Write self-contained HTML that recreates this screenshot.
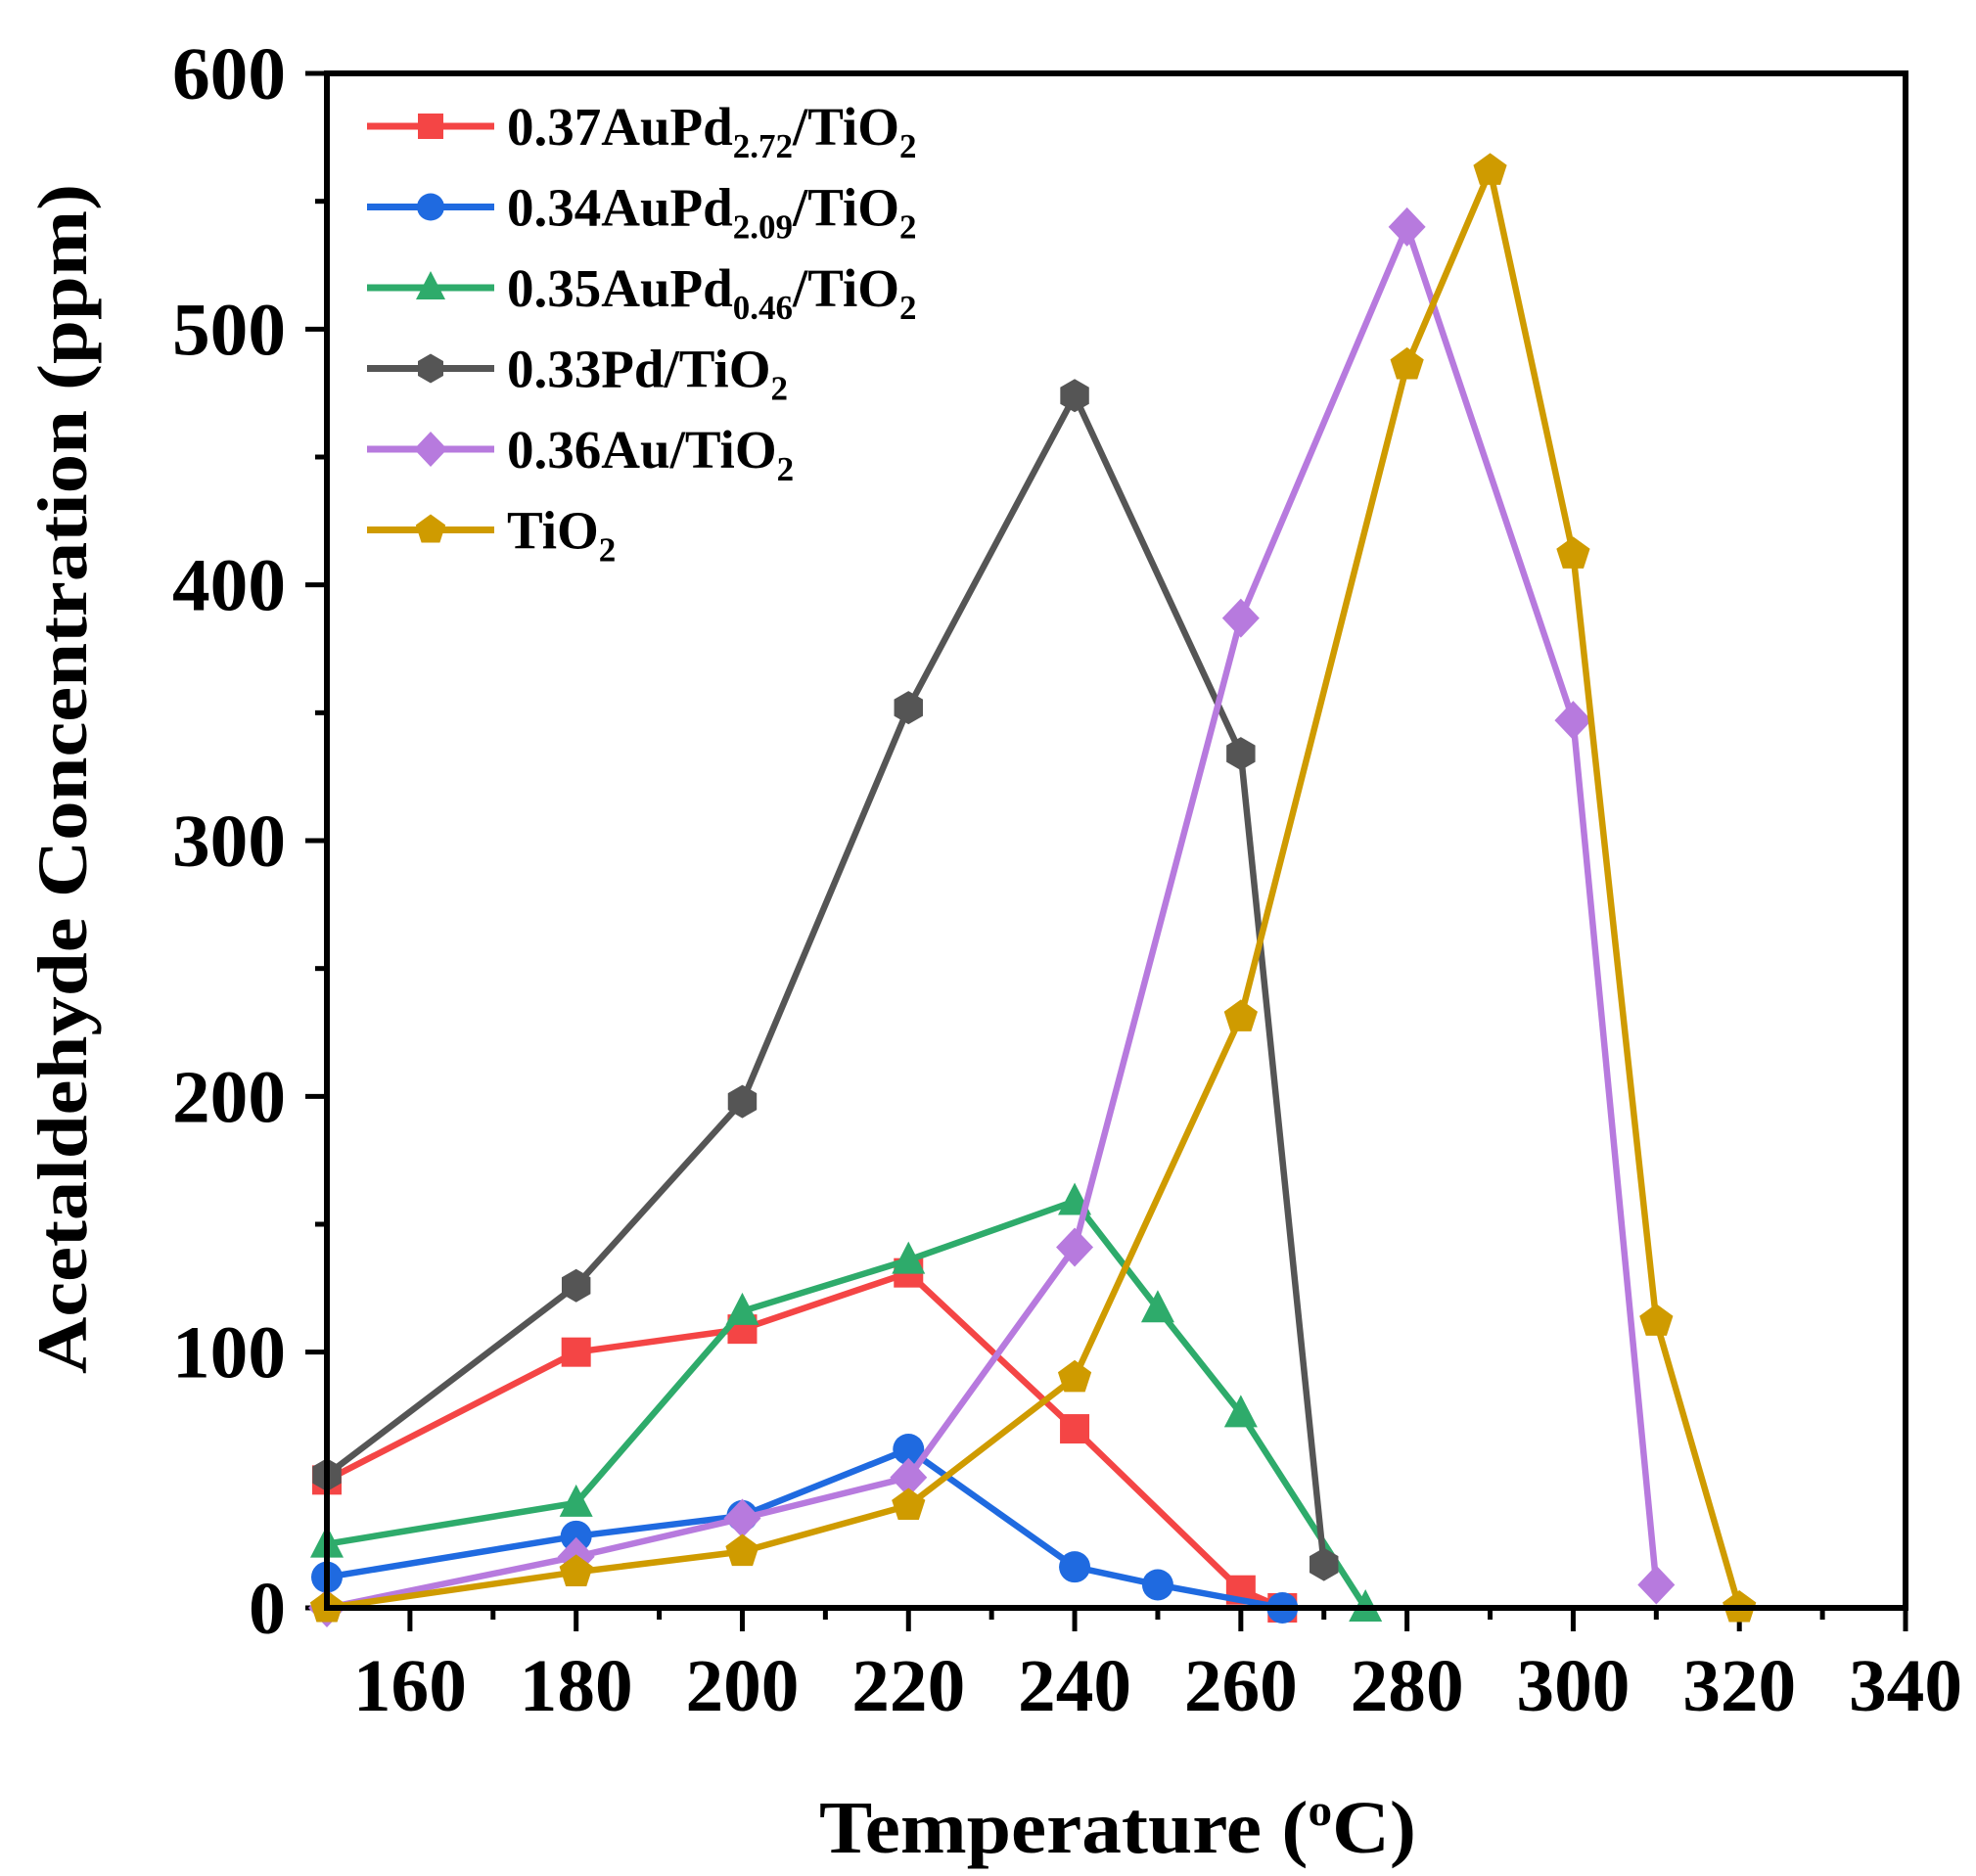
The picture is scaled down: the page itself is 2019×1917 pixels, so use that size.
<!DOCTYPE html>
<html><head><meta charset="utf-8"><style>
html,body{margin:0;padding:0;background:#fff;}
svg{display:block;font-family:"Liberation Serif",serif;font-weight:bold;}
</style></head><body>
<svg id="s" width="2019" height="1917" viewBox="0 0 2019 1917" xmlns="http://www.w3.org/2000/svg">
<g id="ticks" stroke="#000" stroke-width="5"></g>
<g id="data"></g>
<rect x="334" y="75" width="1613" height="1568" fill="none" stroke="#000" stroke-width="6"/>
<g id="labels" font-size="76" fill="#000"></g>
<text x="1142" y="1893" font-size="76" text-anchor="middle" textLength="610" lengthAdjust="spacingAndGlyphs">Temperature (<tspan dy="-28" font-size="46">o</tspan><tspan dy="28">C)</tspan></text>
<text transform="translate(88,796) rotate(-90)" font-size="72" text-anchor="middle" textLength="1216" lengthAdjust="spacingAndGlyphs">Acetaldehyde Concentration (ppm)</text>
<g id="legend" font-size="55"></g>
</svg>
<script>
const NS="http://www.w3.org/2000/svg";
const X=t=>334+(t-150)*8.4895, Y=v=>1643-v*2.6133;
function el(p,tag,a,txt){const e=document.createElementNS(NS,tag);for(const k in a)e.setAttribute(k,a[k]);if(txt!=null)e.textContent=txt;p.appendChild(e);return e;}
const tk=document.getElementById('ticks'),lb=document.getElementById('labels');
for(let v=0;v<=600;v+=50){const y=Y(v);el(tk,'line',{x1:334,x2:334-(v%100?12:22),y1:y,y2:y});
 if(v%100==0)el(lb,'text',{x:292,y:y+26,'text-anchor':'end',textLength:(v?116:38),lengthAdjust:'spacingAndGlyphs'},String(v));}
for(let t=150;t<=340;t+=10){const x=X(t);el(tk,'line',{x1:x,x2:x,y1:1643,y2:1643+(t%20?12:24)});
 if(t%20==0)el(lb,'text',{x:x,y:1748,'text-anchor':'middle',textLength:116,lengthAdjust:'spacingAndGlyphs'},String(t));}
function marker(g,type,x,y,c,r=17){
 if(type=='sq')el(g,'rect',{x:x-r+2,y:y-r+2,width:2*r-4,height:2*r-4,fill:c});
 else if(type=='ci')el(g,'circle',{cx:x,cy:y,r:r-1,fill:c});
 else if(type=='tr')el(g,'polygon',{points:`${x},${y-r-2} ${x+r},${y+r-3} ${x-r},${y+r-3}`,fill:c});
 else if(type=='hex'){let p=[];for(let i=0;i<6;i++){const a=Math.PI/3*i+Math.PI/6;p.push((x+r*Math.cos(a))+','+(y+r*Math.sin(a)));}el(g,'polygon',{points:p.join(' '),fill:c});}
 else if(type=='dia')el(g,'polygon',{points:`${x},${y-r-3} ${x+r+2},${y} ${x},${y+r+3} ${x-r-2},${y}`,fill:c});
 else if(type=='pen'){let p=[];for(let i=0;i<5;i++){const a=-Math.PI/2+2*Math.PI/5*i;p.push((x+(r+1)*Math.cos(a))+','+(y+(r+1)*Math.sin(a)));}el(g,'polygon',{points:p.join(' '),fill:c});}
}
const S=[
 ['#f44545','sq',[[150,50],[180,100],[200,109],[220,131],[240,70],[260,7],[265,0]],'0.37AuPd','2.72'],
 ['#1f6ae0','ci',[[150,12],[180,28],[200,36],[220,62],[240,16],[250,9],[265,0]],'0.34AuPd','2.09'],
 ['#2eab6b','tr',[[150,25],[180,41],[200,116],[220,136],[240,159],[250,117],[260,76],[275,0]],'0.35AuPd','0.46'],
 ['#555555','hex',[[150,52],[180,126],[200,198],[220,352],[240,474],[260,334],[270,17]],'0.33Pd',null],
 ['#b77ade','dia',[[150,0],[180,20],[200,35],[220,51],[240,141],[260,387],[280,540],[300,347],[310,9]],'0.36Au',null],
 ['#cf9b00','pen',[[150,0],[180,14],[200,22],[220,40],[240,90],[260,231],[280,486],[290,562],[300,412],[310,112],[320,0]],'',null]
];
const dg=document.getElementById('data'),lg=document.getElementById('legend');
S.forEach((s,i)=>{const[c,m,d,name,sub]=s;
 el(dg,'polyline',{points:d.map(p=>X(p[0])+','+Y(p[1])).join(' '),fill:'none',stroke:c,'stroke-width':6.5,'stroke-linejoin':'miter'});
 d.forEach(p=>marker(dg,m,X(p[0]),Y(p[1]),c));
 const y=129+i*82.5;
 el(lg,'line',{x1:375,x2:505,y1:y,y2:y,stroke:c,'stroke-width':7});
 marker(lg,m,440,y,c,15);
 const t=el(lg,'text',{x:518,y:y+19});
 if(name)el(t,'tspan',{},name);
 if(sub)el(t,'tspan',{dy:13,'font-size':35},sub);
 el(t,'tspan',{dy:sub?-13:0},(name?'/':'')+'TiO');
 el(t,'tspan',{dy:13,'font-size':35},'2');
});
</script>
</body></html>
